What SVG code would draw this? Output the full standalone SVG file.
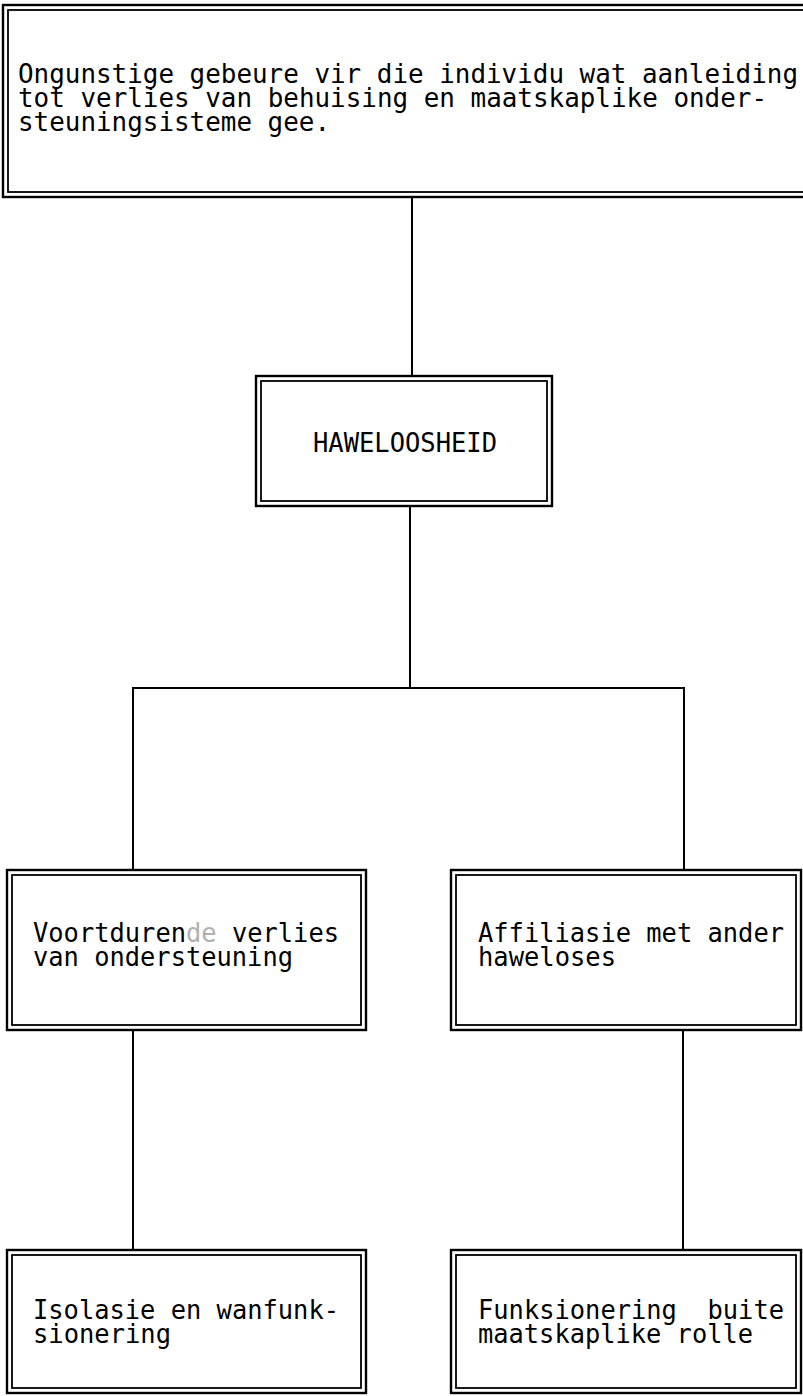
<svg xmlns="http://www.w3.org/2000/svg" width="803" height="1396" viewBox="0 0 803 1396">
<style>
.o{fill:none;stroke:#000;stroke-width:2.4}
.i{fill:none;stroke:#000;stroke-width:1.8}
.c{fill:none;stroke:#000;stroke-width:2}
text{font-family:"DejaVu Sans Mono","Liberation Mono",monospace;font-size:26px;fill:#000;white-space:pre}
</style>
<rect width="803" height="1396" fill="#fff"/>
<g id="connectors">
<line class="c" x1="412" y1="197" x2="412" y2="376"/>
<line class="c" x1="410" y1="506" x2="410" y2="688"/>
<polyline class="c" points="133,870 133,688 684,688 684,870"/>
<line class="c" x1="133" y1="1030" x2="133" y2="1250"/>
<line class="c" x1="683" y1="1030" x2="683" y2="1250"/>
</g>
<g id="top">
<rect class="o" x="3" y="5" width="820" height="192"/>
<rect class="i" x="8" y="10" width="810" height="182"/>
<text x="18" y="83" textLength="780" lengthAdjust="spacingAndGlyphs">Ongunstige gebeure vir die individu wat aanleiding</text>
<text x="18" y="107" textLength="749" lengthAdjust="spacingAndGlyphs">tot verlies van behuising en maatskaplike onder-</text>
<text x="18" y="131" textLength="312" lengthAdjust="spacingAndGlyphs">steuningsisteme gee.</text>
</g>
<g id="haweloosheid">
<rect class="o" x="256" y="376" width="296" height="130"/>
<rect class="i" x="261" y="381" width="286" height="120"/>
<text x="313" y="452" textLength="184" lengthAdjust="spacingAndGlyphs">HAWELOOSHEID</text>
</g>
<g id="verlies">
<rect class="o" x="7" y="870" width="359" height="160"/>
<rect class="i" x="12" y="875" width="349" height="150"/>
<text x="33" y="942" textLength="306" lengthAdjust="spacingAndGlyphs">Voortduren<tspan fill="#b0b0b0">de</tspan> verlies</text>
<text x="33" y="966" textLength="260" lengthAdjust="spacingAndGlyphs">van ondersteuning</text>
</g>
<g id="affiliasie">
<rect class="o" x="451" y="870" width="350" height="160"/>
<rect class="i" x="456" y="875" width="340" height="150"/>
<text x="478" y="942" textLength="306" lengthAdjust="spacingAndGlyphs">Affiliasie met ander</text>
<text x="478" y="966" textLength="138" lengthAdjust="spacingAndGlyphs">haweloses</text>
</g>
<g id="isolasie">
<rect class="o" x="7" y="1250" width="359" height="143"/>
<rect class="i" x="12" y="1255" width="349" height="133"/>
<text x="33" y="1319" textLength="306" lengthAdjust="spacingAndGlyphs">Isolasie en wanfunk-</text>
<text x="33" y="1343" textLength="138" lengthAdjust="spacingAndGlyphs">sionering</text>
</g>
<g id="funksionering">
<rect class="o" x="451" y="1250" width="350" height="143"/>
<rect class="i" x="456" y="1255" width="340" height="133"/>
<text x="478" y="1319" textLength="306" lengthAdjust="spacingAndGlyphs" xml:space="preserve">Funksionering  buite</text>
<text x="478" y="1343" textLength="275" lengthAdjust="spacingAndGlyphs">maatskaplike rolle</text>
</g>
</svg>
